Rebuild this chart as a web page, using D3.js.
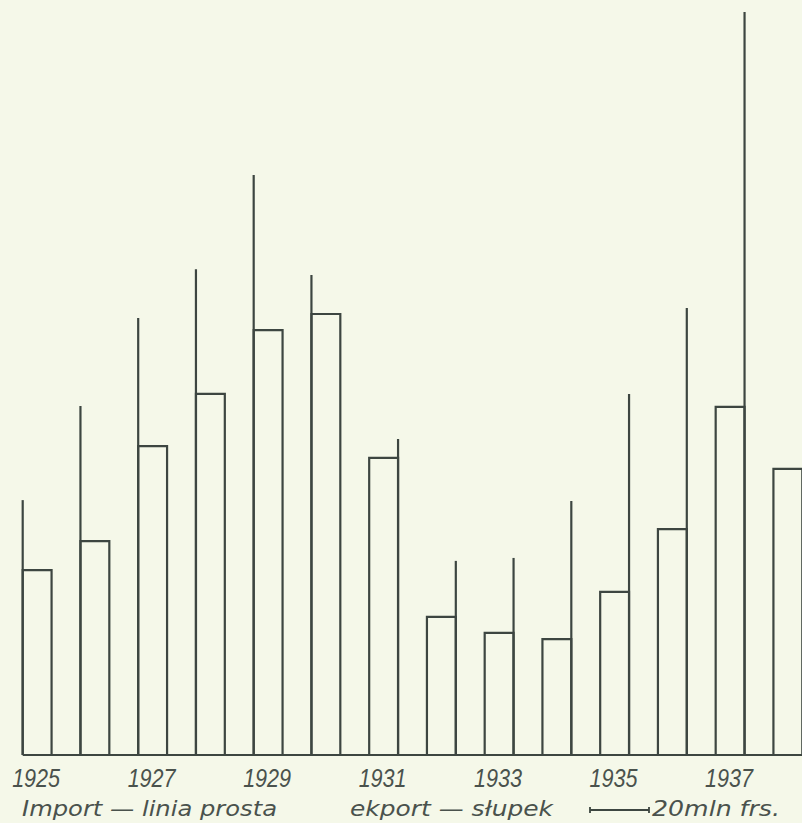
<!DOCTYPE html>
<html>
<head>
<meta charset="utf-8">
<script src="https://cdn.jsdelivr.net/npm/d3@7"></script>
<style>
  html, body { margin: 0; padding: 0; background: #f5f8e9; }
  svg { display: block; }
  .mark { fill: none; stroke: #3d4641; stroke-width: 2.2px; }
  .lbl { font-family: "DejaVu Sans", "Liberation Sans", sans-serif; font-style: italic; fill: #4a524d; }
  .yr { font-family: "Liberation Sans", "DejaVu Sans", sans-serif; }
</style>
</head>
<body>
<script>
// trade values, mln frs
var years = [1925, 1926, 1927, 1928, 1929, 1930, 1931, 1932, 1933, 1934, 1935, 1936, 1937, 1938];
var exportVals = [62.7, 72.5, 104.7, 122.4, 144, 149.5, 100.7, 46.8, 41.4, 39.3, 55.3, 76.6, 118, 97];
var importVals = [86.4, 118.3, 148.1, 164.7, 196.6, 162.7, 107.1, 65.8, 66.8, 86.1, 122.4, 151.5, 251.9, null];
// which edge of the export bar the import line sits on
var importSide = ["L", "L", "L", "L", "L", "L", "R", "R", "R", "R", "R", "R", "R", "R"];
var yearLabels = [1925, 1927, 1929, 1931, 1933, 1935, 1937];
var scaleValue = 20;

var width = 802, height = 823;
var baseY = 755;

var svg = d3.select("body").append("svg")
    .attr("width", width)
    .attr("height", height);

var x = d3.scaleBand()
    .domain(years)
    .range([22.7, 802.3])
    .paddingInner(0.5)
    .paddingOuter(0);

var y = d3.scaleLinear()
    .domain([0, 250])
    .range([baseY, baseY - 250 * 2.95]);

//export bars: open outline (left, top, right)
svg.selectAll(".bar")
    .data(years)
    .enter()
    .append("path")
    .attr("class", "mark bar")
    .attr("d", function(d, i){
        var l = x(d), r = x(d) + x.bandwidth(), t = y(exportVals[i]);
        return "M" + l + "," + baseY + "V" + t + "H" + r + "V" + baseY;
    });

//import lines
function impX(d){
    var i = years.indexOf(d);
    return importSide[i] == "L" ? x(d) : x(d) + x.bandwidth();
}
svg.selectAll(".imp")
    .data(years.filter(function(d, i){ return importVals[i] != null; }))
    .enter()
    .append("line")
    .attr("class", "mark imp")
    .attr("x1", impX)
    .attr("x2", impX)
    .attr("y1", baseY)
    .attr("y2", function(d){ return y(importVals[years.indexOf(d)]); });

//baseline
svg.append("line")
    .attr("class", "mark")
    .attr("x1", x(years[0]))
    .attr("x2", width)
    .attr("y1", baseY)
    .attr("y2", baseY);

//year labels
svg.selectAll(".yr")
    .data(yearLabels)
    .enter()
    .append("text")
    .attr("class", "lbl yr")
    .attr("x", function(d){ return x(d) + x.bandwidth() / 2 - 1; })
    .attr("y", 787)
    .attr("text-anchor", "middle")
    .attr("textLength", 48)
    .attr("lengthAdjust", "spacingAndGlyphs")
    .style("font-size", "25px")
    .text(function(d){ return d; });

//legend
svg.append("text")
    .attr("class", "lbl")
    .attr("x", 22)
    .attr("y", 816)
    .attr("textLength", 255)
    .attr("lengthAdjust", "spacingAndGlyphs")
    .style("font-size", "22px")
    .text("Import — linia prosta");

svg.append("text")
    .attr("class", "lbl")
    .attr("x", 350)
    .attr("y", 816)
    .attr("textLength", 203)
    .attr("lengthAdjust", "spacingAndGlyphs")
    .style("font-size", "22px")
    .text("ekport — słupek");

var sx0 = 590, sx1 = sx0 + (y(0) - y(scaleValue)), sy = 810;
svg.append("path")
    .attr("class", "mark")
    .style("stroke-width", "1.8px")
    .attr("d", "M" + sx0 + "," + (sy - 3) + "V" + (sy + 3) + "M" + sx0 + "," + sy + "H" + sx1 +
        "M" + sx1 + "," + (sy - 3) + "V" + (sy + 3));

svg.append("text")
    .attr("class", "lbl")
    .attr("x", sx1 + 3)
    .attr("y", 816)
    .attr("textLength", 128)
    .attr("lengthAdjust", "spacingAndGlyphs")
    .style("font-size", "22px")
    .text(scaleValue + "mln frs.");
</script>
</body>
</html>
